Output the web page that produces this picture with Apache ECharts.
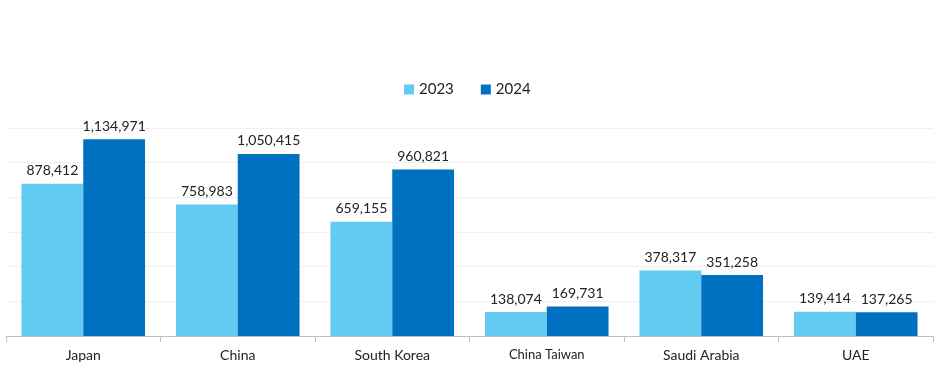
<!DOCTYPE html>
<html><head><meta charset="utf-8">
<script src="https://cdn.jsdelivr.net/npm/echarts@6/dist/echarts.min.js"></script>
<style>html,body{margin:0;padding:0;background:#fff}#c{width:936px;height:370px}</style>
</head><body><div id="c"></div>
<script>
const categories = ["Japan","China","South Korea","China Taiwan","Saudi Arabia","UAE"];
const series2023 = [878412,758983,659155,138074,378317,139414];
const series2024 = [1134971,1050415,960821,169731,351258,137265];
const seriesNames = ["2023","2024"];
const chart = echarts.init(document.getElementById('c'));
const fmt = p => p.value.toLocaleString('en-US');
const font = 'Lato';
chart.setOption({
  animation:false,
  textStyle:{fontFamily:font},
  legend:{top:77,left:399,itemWidth:10,itemHeight:10,itemGap:27,icon:'rect',
    textStyle:{fontSize:15,color:'#222',fontFamily:font},data:seriesNames},
  grid:{left:6,right:3,top:128,bottom:34,containLabel:false},
  xAxis:{type:'category',
    data:categories.map(c => c === 'China Taiwan' ? {value:c,textStyle:{fontSize:13}} : c),
    axisLine:{lineStyle:{color:'#bfbfbf'}},
    axisTick:{show:true,length:6,lineStyle:{color:'#bfbfbf'}},
    axisLabel:{fontSize:14,color:'#222',margin:12,fontFamily:font}},
  yAxis:{type:'value',min:0,max:1200000,interval:200000,
    axisLabel:{show:false},axisLine:{show:false},axisTick:{show:false},
    splitLine:{lineStyle:{color:'#efefef'}}},
  series:[
    {name:seriesNames[0],type:'bar',data:series2023,barGap:'0%',barCategoryGap:'20%',
     itemStyle:{color:'#63CBF2'},
     label:{show:true,position:'top',formatter:fmt,fontSize:14,color:'#222',distance:6,fontFamily:font}},
    {name:seriesNames[1],type:'bar',data:series2024,
     itemStyle:{color:'#0070C0'},
     label:{show:true,position:'top',formatter:fmt,fontSize:14,color:'#222',distance:6,fontFamily:font}}
  ]
});
</script></body></html>
